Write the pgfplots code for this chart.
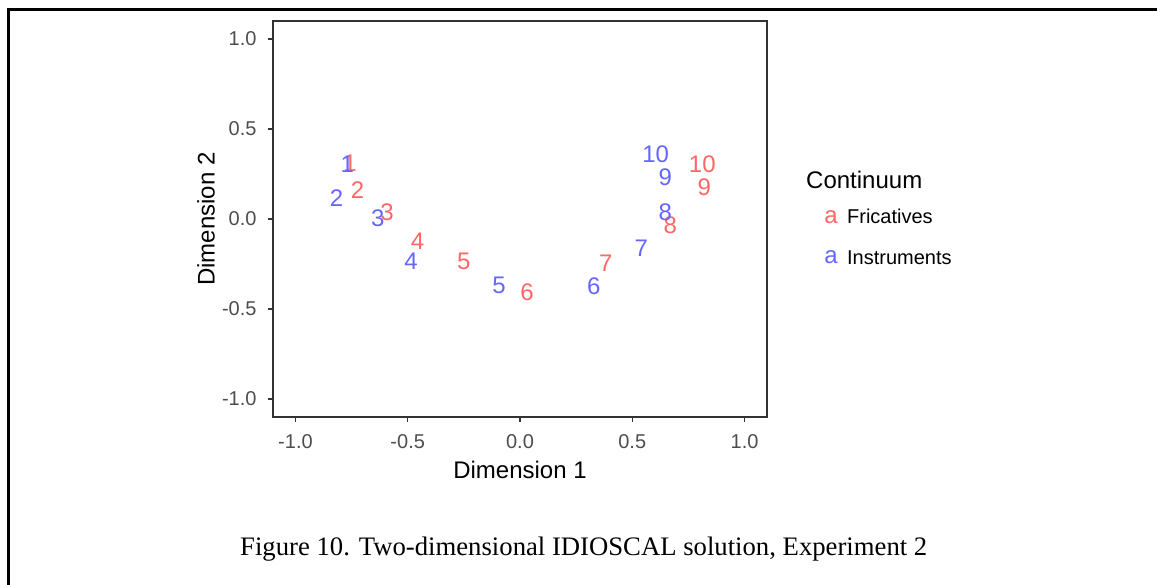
\documentclass[border=0pt]{standalone}
\usepackage{fontspec}
\setmainfont{Liberation Sans}
\newfontfamily\captionfont{Liberation Serif}
\usepackage{pgfplots}
\pgfplotsset{compat=1.18}
\usepackage{pgfplotstable}

\definecolor{fric}{RGB}{255,102,102}
\definecolor{inst}{RGB}{102,102,255}
\definecolor{gray20}{RGB}{51,51,51}
\definecolor{gray30}{RGB}{77,77,77}

\newcommand\bigfont{\fontsize{24}{28}\selectfont}
\newcommand\smallfont{\fontsize{20}{24}\selectfont}

% IDIOSCAL stimulus coordinates, Experiment 2
\pgfplotstableread{
x      y      lab
-0.757  0.311  1
-0.724  0.162  2
-0.592  0.038  3
-0.456 -0.124  4
-0.250 -0.237  5
 0.031 -0.408  6
 0.382 -0.247  7
 0.669 -0.036  8
 0.821  0.176  9
 0.812  0.302  10
}\fricatives

\pgfplotstableread{
x      y      lab
-0.769  0.302  1
-0.817  0.116  2
-0.633  0.004  3
-0.485 -0.234  4
-0.093 -0.371  5
 0.329 -0.371  6
 0.540 -0.163  7
 0.647  0.038  8
 0.647  0.232  9
 0.604  0.362  10
}\instruments

\begin{document}
\begin{tikzpicture}
\useasboundingbox (0,0) rectangle (1157pt,-585pt);
\draw[line width=3pt] (8pt,-585pt) -- (8pt,-10pt) -- (1157pt,-10pt);
\begin{axis}[
  at={(273pt,-417pt)}, anchor=south west,
  scale only axis, width=494pt, height=396pt,
  xmin=-1.1, xmax=1.1, ymin=-1.1, ymax=1.1,
  xtick={-1,-0.5,0,0.5,1}, xticklabels={-1.0,-0.5,0.0,0.5,1.0},
  ytick={-1,-0.5,0,0.5,1}, yticklabels={-1.0,-0.5,0.0,0.5,1.0},
  tick pos=left, tick align=outside, major tick length=5pt,
  axis line style={gray20, line width=1.1pt},
  every tick/.style={gray20, line width=1.1pt},
  tick label style={font=\smallfont, text=gray30},
  xticklabel style={yshift=-9pt},
  yticklabel style={xshift=-8pt},
  xlabel={Dimension 1}, ylabel={Dimension 2},
  label style={font=\bigfont, text=black},
  xlabel style={at={(axis description cs:0.5,-0.1338)}, anchor=center},
  ylabel style={at={(axis description cs:-0.1356,0.5)}, anchor=center},
  legend style={at={(axis description cs:1.097,0.535)}, anchor=north west,
    draw=none, fill=none, font=\smallfont, text=black, row sep=21pt},
  legend cell align=left,
  clip=false,
]
\addplot[only marks, mark=none, nodes near coords, point meta=explicit symbolic,
  nodes near coords style={font=\bigfont, text=fric, anchor=center, inner sep=0pt},
  legend image code/.code={\path[draw=none, fill=none] (0pt,0pt) -- (27pt,0pt);
    \node[font=\bigfont, text=fric, inner sep=0pt] at (6pt,0pt) {a};}]
  table[x=x, y=y, meta=lab]{\fricatives};
\addlegendentry{Fricatives}
\addplot[only marks, mark=none, nodes near coords, point meta=explicit symbolic,
  nodes near coords style={font=\bigfont, text=inst, anchor=center, inner sep=0pt},
  legend image code/.code={\path[draw=none, fill=none] (0pt,0pt) -- (27pt,0pt);
    \node[font=\bigfont, text=inst, inner sep=0pt] at (6pt,0pt) {a};}]
  table[x=x, y=y, meta=lab]{\instruments};
\addlegendentry{Instruments}
\node[anchor=west, inner sep=0pt, font=\bigfont] at (axis description cs:1.079,0.598) {Continuum};
\end{axis}
\node[anchor=base west, inner sep=0pt, font=\captionfont\fontsize{26.7}{30}\selectfont]
  at (240pt,-555pt) {Figure 10. Two-dimensional IDIOSCAL solution, Experiment 2};
\end{tikzpicture}
\end{document}
